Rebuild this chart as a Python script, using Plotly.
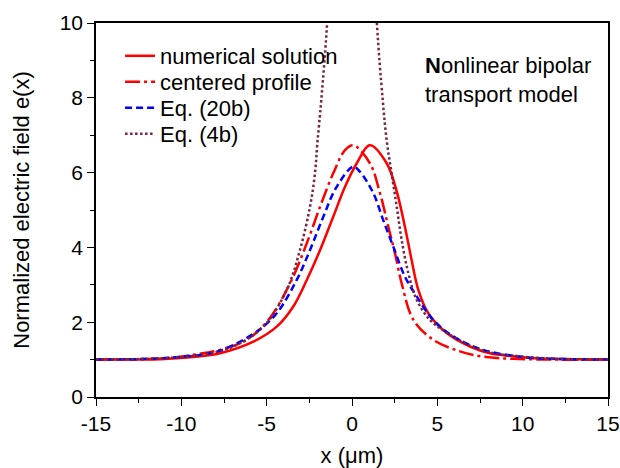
import plotly.graph_objects as go

# Numerical solution (solid red)
x_num = [-15, -13, -11.25, -9.3, -7.73, -5.78, -4.41, -3.44, -2.65, -1.87, -1.1, -0.41, 0.28,
         1.05, 2.03, 2.62, 3.1, 3.49, 3.89, 4.47, 5.55, 6.91, 8.08, 9.45, 11, 13, 15]
e_num = [1.0, 1.005, 1.01, 1.07, 1.17, 1.48, 1.88, 2.42, 3.13, 3.93, 4.82, 5.62, 6.25,
         6.73, 6.25, 5.5, 4.55, 3.67, 2.86, 2.24, 1.71, 1.35, 1.17, 1.09, 1.03, 1.01, 1.0]

# Centered profile (dash-dot red)
x_cen = [-15, -13, -11, -9.3, -7.73, -6.17, -4.9, -3.63, -2.65, -1.87, -1.1, -0.41, 0.08,
         1.05, 1.64, 2.13, 2.52, 2.91, 3.6, 4.76, 6.33, 7.69, 9.45, 12, 15]
e_cen = [1.0, 1.01, 1.03, 1.13, 1.26, 1.53, 2.06, 3.04, 4.11, 5.09, 5.98, 6.6, 6.73,
         6.25, 5.45, 4.55, 3.84, 3.04, 2.06, 1.53, 1.22, 1.08, 1.02, 1.0, 1.0]

# Eq. (20b) (dashed blue)
x_20b = [-15, -12, -10.1, -8.3, -7.34, -5.58, -4.41, -3.24, -2.46, -1.68, -0.9, 0.08,
         0.47, 1.25, 1.83, 2.42, 3.1, 3.79, 4.76, 5.94, 7.69, 10.2, 12, 15]
e_20b = [1.0, 1.02, 1.07, 1.17, 1.31, 1.75, 2.24, 3.13, 3.93, 4.82, 5.62, 6.16,
         6.02, 5.45, 4.73, 4.02, 3.22, 2.69, 2.06, 1.62, 1.26, 1.06, 1.02, 1.0]

# Eq. (4b) (dotted, diverges near the origin)
x_4b = [-15, -12, -9.3, -7.15, -5.2, -3.83, -3.05, -2.46, -2.17, -2.03, -1.8, -1.46,
        -1.2, -0.9, 0.9, 1.2, 1.46, 1.8, 2.03, 2.32, 2.62, 2.91, 3.3, 3.79, 4.57, 5.55,
        6.9, 8.1, 9.5, 12, 15]
e_4b = [1.0, 1.02, 1.1, 1.31, 1.88, 2.86, 3.93, 5.09, 5.98, 6.78, 7.94, 10.0,
        13.0, 20.0, 20.0, 13.0, 10.0, 7.94, 6.87, 5.98, 5.09, 4.2, 3.31, 2.6, 2.06, 1.72,
        1.38, 1.19, 1.1, 1.02, 1.0]

x_ticks = [-15, -10, -5, 0, 5, 10, 15]
x_ticktext = ["-15", "-10", "-5", "0", "5", "10", "15"]
y_ticks = [0, 2, 4, 6, 8, 10]
y_ticktext = ["0", "2", "4", "6", "8", "10"]

FONT = "Liberation Sans, Arial, sans-serif"
LEG_FONT = dict(family=FONT, size=22, color="black")

series = [
    (x_num, e_num, "numerical solution", dict(color="#ff0000", width=2.5), "legend"),
    (x_cen, e_cen, "centered profile",
     dict(color="#ff0000", width=2.5, dash="15px,4px,3px,4px"), "legend2"),
    (x_20b, e_20b, "Eq. (20b)", dict(color="#0000ff", width=2.5, dash="7px,4px"), "legend3"),
    (x_4b, e_4b, "Eq. (4b)", dict(color="#7a2444", width=2.5, dash="2.5px,2.5px"), "legend4"),
]

fig = go.Figure()
for xs, ys, name, line, leg in series:
    fig.add_trace(go.Scatter(x=xs, y=ys, mode="lines", name=name, legend=leg,
                             line=dict(shape="spline", smoothing=1.0, **line)))

axis_common = dict(
    showline=True, linecolor="black", linewidth=1.5, mirror=True,
    ticks="outside", ticklen=7, tickwidth=1.2, tickcolor="black",
    showgrid=False, zeroline=False, automargin=False,
    tickfont=dict(family=FONT, size=21, color="black"),
)

fig.update_xaxes(range=[-15, 15], tickvals=x_ticks, ticktext=x_ticktext,
                 minor=dict(dtick=2.5, ticks="outside", ticklen=4, tickwidth=1.2, tickcolor="black"),
                 title=dict(text="x (\u03bcm)", font=dict(family=FONT, size=22, color="black"),
                            standoff=17),
                 **axis_common)
fig.update_yaxes(range=[0, 10], tickvals=y_ticks, ticktext=y_ticktext,
                 minor=dict(dtick=1, ticks="outside", ticklen=4, tickwidth=1.2, tickcolor="black"),
                 title=dict(text="Normalized electric field e(x)",
                            font=dict(family=FONT, size=22, color="black"), standoff=24),
                 **axis_common)

fig.add_annotation(x=0.639, y=0.925, xref="paper", yref="paper", xanchor="left", yanchor="top",
                   align="left", showarrow=False,
                   text="<b>N</b>onlinear bipolar<br>transport model",
                   font=dict(family=FONT, size=22, color="black"))

# one legend box per entry so the rows sit at fixed heights
PLOT_TOP, PLOT_BOTTOM = 23, 397
def legend_at(px_y):
    return dict(x=0.047, y=(PLOT_BOTTOM - px_y) / (PLOT_BOTTOM - PLOT_TOP),
                xanchor="left", yanchor="middle", bgcolor="rgba(0,0,0,0)",
                font=LEG_FONT, itemwidth=30)

fig.update_layout(
    width=620, height=468,
    margin=dict(l=96, r=12, t=PLOT_TOP, b=468 - PLOT_BOTTOM),
    paper_bgcolor="white", plot_bgcolor="white",
    showlegend=True,
    legend=legend_at(56),
    legend2=legend_at(82),
    legend3=legend_at(108),
    legend4=legend_at(134),
)

fig.write_html("out.html")
